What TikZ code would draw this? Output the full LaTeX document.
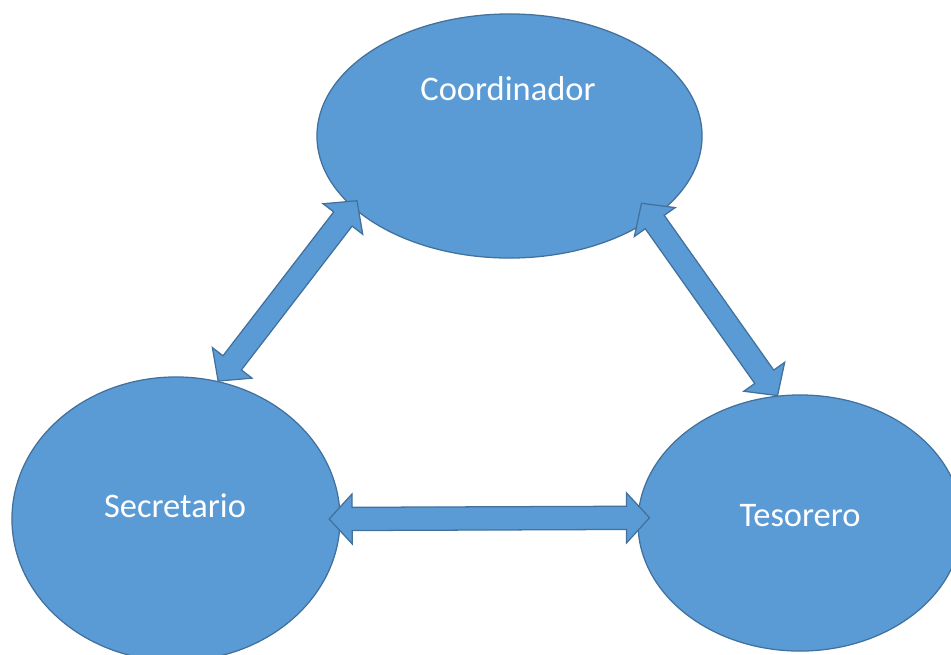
\documentclass[tikz,border=0pt]{standalone}
\usepackage{fontspec}
\setmainfont{Carlito}
\usetikzlibrary{shapes.geometric,calc}
\definecolor{roleblue}{HTML}{5B9BD5}
\definecolor{edgeblue}{HTML}{41719C}

\begin{document}
\begin{tikzpicture}[x=0.025cm, y=-0.025cm,
   role_style/.style={ellipse, draw=edgeblue, fill=roleblue, line width=0.9pt, inner sep=0pt},
   name_style/.style={anchor=base, text=white, font=\fontsize{24.5}{29}\selectfont},
   arrow_style/.style={draw=edgeblue, fill=roleblue, line width=0.9pt, line join=miter,
     to path={
       -- ($(\tikztostart)!0.575cm!(\tikztotarget)!0.625cm!90:(\tikztotarget)$)
       -- ($(\tikztostart)!0.575cm!(\tikztotarget)!0.29cm!90:(\tikztotarget)$)
       -- ($(\tikztotarget)!0.575cm!(\tikztostart)!0.29cm!-90:(\tikztostart)$)
       -- ($(\tikztotarget)!0.575cm!(\tikztostart)!0.625cm!-90:(\tikztostart)$)
       -- (\tikztotarget)
       -- ($(\tikztotarget)!0.575cm!(\tikztostart)!0.625cm!90:(\tikztostart)$)
       -- ($(\tikztotarget)!0.575cm!(\tikztostart)!0.29cm!90:(\tikztostart)$)
       -- ($(\tikztostart)!0.575cm!(\tikztotarget)!0.29cm!-90:(\tikztotarget)$)
       -- ($(\tikztostart)!0.575cm!(\tikztotarget)!0.625cm!-90:(\tikztotarget)$)
       -- cycle}}]
	\useasboundingbox (0,0) rectangle (951,654);
	\clip (0,0) rectangle (951,654);

	\node [role_style, minimum width=9.625cm, minimum height=6.1cm] (coord) at (509.5,136) {};
	\node [role_style, minimum width=8.2cm, minimum height=7.1cm] (sec) at (176,519) {};
	\node [role_style, minimum width=8.1cm, minimum height=6.4cm] (tes) at (800,523) {};

	\node [name_style] (coord_txt) at (508,100) {Coordinador};
	\node [name_style] (sec_txt) at (175,517) {Secretario};
	\node [name_style] (tes_txt) at (800,526) {Tesorero};

	% arrow tips sit a little inside the ellipses
	\coordinate (sec_up) at (sec.73);
	\coordinate (coord_l) at ($(coord)!0.95!(coord.203)$);
	\coordinate (coord_r) at ($(coord)!0.876!(coord.333)$);
	\coordinate (tes_up) at (tes.100);
	\coordinate (sec_r) at ($(sec)!0.93!(sec.0)$);
	\coordinate (tes_l) at ($(tes)!0.926!(tes.178)$);

	\foreach \from/\to in {sec_up/coord_l, coord_r/tes_up, sec_r/tes_l}
	  \draw [arrow_style] (\from) to (\to);

\end{tikzpicture}
\end{document}
